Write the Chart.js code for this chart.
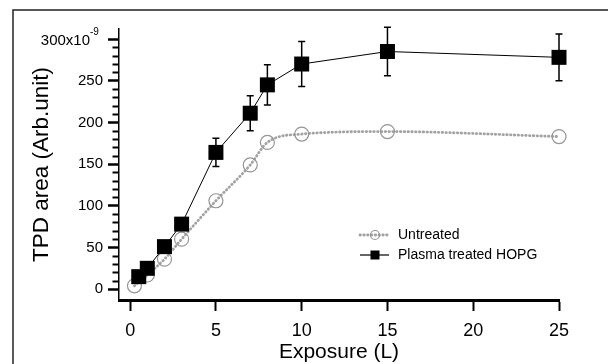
<!DOCTYPE html>
<html>
<head>
<meta charset="utf-8">
<script src="https://cdn.jsdelivr.net/npm/chart.js@4"></script>
<style>
  body { margin: 0; background: #fff; }
  canvas { display: block; }
</style>
</head>
<body>
<canvas id="chart" width="608" height="364"></canvas>
<script>
const exposureUntreated = [0.25, 1, 2, 3, 5, 7, 8, 10, 15, 25];
const untreatedArea = [4, 17, 36, 60, 106, 149, 176, 186, 189, 183];
const exposurePlasma = [0.5, 1, 2, 3, 5, 7, 8, 10, 15, 25];
const plasmaArea = [15, 25, 51, 78, 164, 211, 245, 270, 285, 278];
const plasmaErr = [3, 4, 5, 6, 17, 21, 24, 27, 29, 28];
const xTicks = [0, 5, 10, 15, 20, 25];
const yTicks = [0, 50, 100, 150, 200, 250, 300];
const yMinorTicks = [10, 20, 30, 40, 60, 70, 80, 90, 110, 120, 130, 140,
    160, 170, 180, 190, 210, 220, 230, 240, 260, 270, 280, 290];

const FONT = "'Liberation Sans', Arial, sans-serif";
const GREY_LINE = "#a2a2a2";
const GREY_MARK = "#959595";

Chart.defaults.font.family = FONT;
Chart.defaults.color = "#000";

function toPoints(xs, ys) {
    return xs.map((v, i) => ({ x: v, y: ys[i] }));
}

const extras = {
    id: "extras",
    beforeDatasetsDraw(chart) {
        // error bars for the plasma series
        const { ctx, scales: { x, y } } = chart;
        ctx.save();
        ctx.strokeStyle = "#000";
        ctx.lineWidth = 1.5;
        exposurePlasma.forEach((v, i) => {
            const px = x.getPixelForValue(v);
            const top = y.getPixelForValue(plasmaArea[i] + plasmaErr[i]);
            const bot = y.getPixelForValue(plasmaArea[i] - plasmaErr[i]);
            ctx.beginPath();
            ctx.moveTo(px, top);
            ctx.lineTo(px, bot);
            ctx.moveTo(px - 3.5, top);
            ctx.lineTo(px + 3.5, top);
            ctx.moveTo(px - 3.5, bot);
            ctx.lineTo(px + 3.5, bot);
            ctx.stroke();
        });
        ctx.restore();
    },
    afterDraw(chart) {
        const { ctx, chartArea, scales: { y } } = chart;
        ctx.save();

        // outer frame (left and top edges)
        ctx.strokeStyle = "#222";
        ctx.lineWidth = 1.5;
        ctx.beginPath();
        ctx.moveTo(13, 364);
        ctx.lineTo(13, 10);
        ctx.lineTo(608, 10);
        ctx.stroke();

        // minor y ticks
        ctx.strokeStyle = "#000";
        ctx.lineWidth = 2;
        yMinorTicks.forEach((v) => {
            const py = Math.round(y.getPixelForValue(v)) + 0.5;
            ctx.beginPath();
            ctx.moveTo(chartArea.left - 6.5, py);
            ctx.lineTo(chartArea.left, py);
            ctx.stroke();
        });

        // top tick label with exponent
        const y300 = y.getPixelForValue(300);
        ctx.fillStyle = "#000";
        ctx.textBaseline = "middle";
        ctx.textAlign = "right";
        ctx.font = `15px ${FONT}`;
        ctx.fillText("300x10", 90, y300 + 1.5);
        ctx.textAlign = "left";
        ctx.font = `10px ${FONT}`;
        ctx.fillText("-9", 90, y300 - 7);

        // legend
        const lx1 = 360, lx2 = 389, lmx = 375, ltx = 398;
        const ly1 = 235, ly2 = 255;
        ctx.font = `14px ${FONT}`;
        ctx.fillStyle = "#000";
        ctx.fillText("Untreated", ltx, ly1);
        ctx.fillText("Plasma treated HOPG", ltx, ly2);

        ctx.strokeStyle = GREY_LINE;
        ctx.lineWidth = 2.8;
        ctx.lineCap = "round";
        ctx.setLineDash([0.5, 3.3]);
        ctx.beginPath();
        ctx.moveTo(lx1, ly1);
        ctx.lineTo(lx2, ly1);
        ctx.stroke();
        ctx.setLineDash([]);
        ctx.lineCap = "butt";
        ctx.strokeStyle = GREY_MARK;
        ctx.lineWidth = 1.2;
        ctx.beginPath();
        ctx.arc(lmx, ly1, 4.5, 0, Math.PI * 2);
        ctx.stroke();

        ctx.strokeStyle = "#000";
        ctx.lineWidth = 1.2;
        ctx.beginPath();
        ctx.moveTo(lx1, ly2);
        ctx.lineTo(lx2, ly2);
        ctx.stroke();
        ctx.fillStyle = "#000";
        ctx.fillRect(lmx - 4.5, ly2 - 4.5, 9, 9);

        ctx.restore();
    },
};

const chart = new Chart(document.querySelector("#chart"), {
    type: "line",
    data: {
        datasets: [
            {
                label: "Untreated",
                data: toPoints(exposureUntreated, untreatedArea),
                borderColor: GREY_LINE,
                borderWidth: 2.8,
                borderDash: [0.5, 3.3],
                borderCapStyle: "round",
                cubicInterpolationMode: "monotone",
                pointStyle: "circle",
                pointRadius: 7,
                pointBorderColor: GREY_MARK,
                pointBorderWidth: 1.2,
                pointBackgroundColor: "rgba(0,0,0,0)",
                clip: false,
                order: 1,
            },
            {
                label: "Plasma treated HOPG",
                data: toPoints(exposurePlasma, plasmaArea),
                borderColor: "#000",
                borderWidth: 1,
                tension: 0,
                pointStyle: "rect",
                pointRadius: 10.6,
                pointBorderWidth: 0,
                pointBackgroundColor: "#000",
                clip: false,
                order: 0,
            },
        ],
    },
    options: {
        responsive: false,
        animation: false,
        layout: { padding: { left: 0, right: 49, top: 29, bottom: 0 } },
        plugins: {
            legend: { display: false },
            tooltip: { enabled: false },
        },
        scales: {
            x: {
                type: "linear",
                min: -0.65,
                max: 25,
                afterBuildTicks: (s) => {
                    s.ticks = xTicks.map((v) => ({ value: v }));
                },
                afterFit: (s) => {
                    s.height = 64;
                },
                ticks: {
                    autoSkip: false,
                    maxRotation: 0,
                    padding: 11,
                    font: { size: 18, lineHeight: 1 },
                    color: "#000",
                },
                grid: {
                    drawOnChartArea: false,
                    tickLength: 11,
                    tickWidth: 2,
                    color: "#000",
                },
                border: { color: "#000", width: 3 },
                title: {
                    display: true,
                    text: "Exposure (L)",
                    color: "#000",
                    font: { size: 21, lineHeight: 1 },
                    padding: { top: 0, bottom: 1.5 },
                },
            },
            y: {
                type: "linear",
                min: -13,
                max: 312,
                afterBuildTicks: (s) => {
                    s.ticks = yTicks.map((v) => ({ value: v }));
                },
                afterFit: (s) => {
                    s.width = 119;
                },
                ticks: {
                    padding: 5,
                    font: { size: 15 },
                    color: "#000",
                    callback: (v) => (v === 300 ? "" : String(v)),
                },
                grid: {
                    drawOnChartArea: false,
                    tickLength: 11,
                    tickWidth: 2.5,
                    color: "#000",
                },
                border: { color: "#000", width: 1.5 },
                title: {
                    display: true,
                    text: "TPD area (Arb.unit)",
                    color: "#000",
                    font: { size: 22.5, lineHeight: 1 },
                    padding: { top: 31, bottom: 0 },
                },
            },
        },
    },
    plugins: [extras],
});
</script>
</body>
</html>
